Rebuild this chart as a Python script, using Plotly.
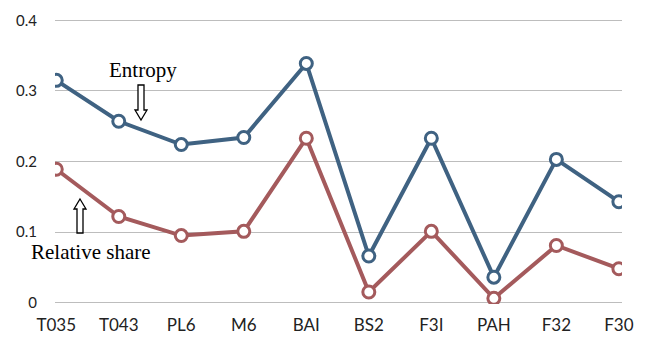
import plotly.graph_objects as go

categories = ["T035", "T043", "PL6", "M6", "BA1", "BS2", "F31", "PAH", "F32", "F30"]
tick_labels = ["T035", "T043", "PL6", "M6", "BAI", "BS2", "F3I", "PAH", "F32", "F30"]
entropy = [0.315, 0.257, 0.224, 0.234, 0.339, 0.066, 0.233, 0.036, 0.203, 0.143]
relative_share = [0.189, 0.122, 0.095, 0.101, 0.233, 0.015, 0.101, 0.006, 0.081, 0.048]
y_ticks = [0, 0.1, 0.2, 0.3, 0.4]
y_tick_text = ["0", "0.1", "0.2", "0.3", "0.4"]

W, H = 650, 338
L, R, T, B = 55, 28, 19, 34
PW, PH = W - L - R, H - T - B

def px(x):
    return (x - L) / PW

def py(y):
    return (H - B - y) / PH

BLUE = "#3f6282"
RED = "#a45a5c"

fig = go.Figure()
for vals, col, name in [(entropy, BLUE, "Entropy"), (relative_share, RED, "Relative share")]:
    fig.add_trace(go.Scatter(
        x=list(range(len(categories))), y=vals, mode="lines+markers", name=name,
        line=dict(color=col, width=4),
        marker=dict(symbol="circle", size=12, color="white", line=dict(color=col, width=3)),
        showlegend=False,
    ))

def arrow_path(cx, top, bottom, down):
    sw, hw, hh = 3, 6, 10
    if down:
        pts = [(cx - sw, top), (cx + sw, top), (cx + sw, bottom - hh), (cx + hw, bottom - hh),
               (cx, bottom), (cx - hw, bottom - hh), (cx - sw, bottom - hh)]
    else:
        pts = [(cx, top), (cx + hw, top + hh), (cx + sw, top + hh), (cx + sw, bottom),
               (cx - sw, bottom), (cx - sw, top + hh), (cx - hw, top + hh)]
    d = "M " + " L ".join(f"{px(a):.5f},{py(b):.5f}" for a, b in pts) + " Z"
    return d

shapes = [
    dict(type="path", xref="paper", yref="paper", path=arrow_path(141, 85, 120, True),
         line=dict(color="black", width=1.3), fillcolor="white"),
    dict(type="path", xref="paper", yref="paper", path=arrow_path(80, 199, 233, False),
         line=dict(color="black", width=1.3), fillcolor="white"),
]

annotations = [
    dict(text="Entropy", xref="paper", yref="paper", x=px(143), y=py(70), showarrow=False,
         font=dict(family="Liberation Serif", size=21, color="black"), xanchor="center", yanchor="middle"),
    dict(text="Relative share", xref="paper", yref="paper", x=px(91), y=py(252), showarrow=False,
         font=dict(family="Liberation Serif", size=21, color="black"), xanchor="center", yanchor="middle"),
]

fig.update_layout(
    width=W, height=H,
    margin=dict(l=L, r=R, t=T, b=B),
    paper_bgcolor="white", plot_bgcolor="white",
    shapes=shapes, annotations=annotations,
    xaxis=dict(tickmode="array", tickvals=list(range(len(categories))), ticktext=tick_labels,
               range=[-0.02, 9.05], showgrid=False, zeroline=False, showline=False, ticks="",
               ticklabelstandoff=9, automargin=False,
               tickfont=dict(family="Lato", size=17, color="#222222")),
    yaxis=dict(range=[-0.002, 0.402], tickmode="array", tickvals=y_ticks, ticktext=y_tick_text,
               showgrid=True, gridcolor="#bdbdbd", gridwidth=1.3, zeroline=False, showline=False,
               ticks="", ticklabelstandoff=17, automargin=False,
               tickfont=dict(family="Lato", size=15, color="#222222")),
)

fig.write_html("out.html", config={"displayModeBar": False},
               post_script="document.body.style.margin='0';document.body.style.padding='0';")
